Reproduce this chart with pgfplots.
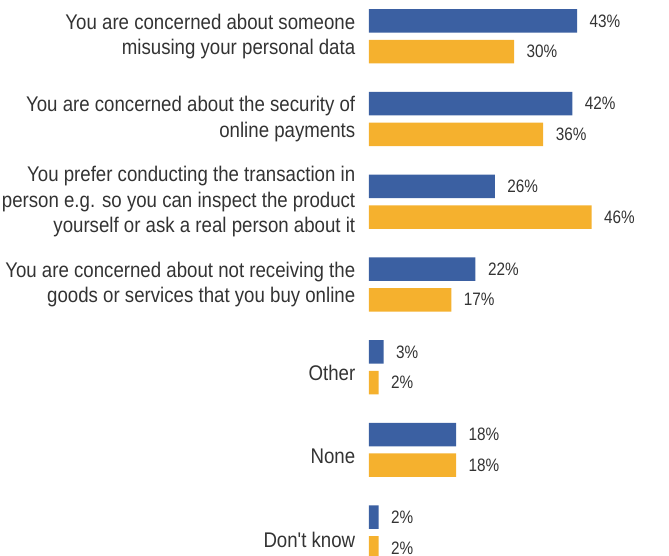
\documentclass[border=0pt]{standalone}
\usepackage{pgfplots}
\pgfplotsset{compat=1.18}
\usepackage{fontspec}
\setmainfont{Liberation Sans}[FakeStretch=0.85]
\newfontfamily\catfont{Liberation Sans}[FakeStretch=0.88]
\definecolor{cblue}{HTML}{3B60A2}
\definecolor{corange}{HTML}{F5B12E}
\definecolor{ctext}{HTML}{333333}
\begin{document}
\begin{tikzpicture}
\begin{axis}[
  name=ax,
  scale only axis,
  width=300bp, height=556bp,
  xmin=0, xmax=61.98,
  ymin=0, ymax=556,
  y dir=reverse,
  xbar, bar width=23.5,
  axis line style={draw=none},
  tick style={draw=none},
  xtick=\empty,
  ytick={36.35,119.05,201.75,284.45,367.15,449.85,532.55},
  yticklabels={
    {You are concerned about someone\\misusing your personal data},
    {You are concerned about the security of\\online payments},
    {You prefer conducting the transaction in\\person e.g. so you can inspect the product\\yourself or ask a real person about it},
    {You are concerned about not receiving the\\goods or services that you buy online},
    {\raisebox{-5.5bp}[\height][\depth]{Other}},
    {\raisebox{-6bp}[\height][\depth]{None}},
    {\raisebox{-7bp}[\height][\depth]{Don't know}}},
  yticklabel style={align=right, font=\catfont\fontsize{21.2bp}{25.5bp}\selectfont, text=ctext, xshift=-6bp},
  nodes near coords={\pgfmathprintnumber[assume math mode=true]{\pgfplotspointmeta}\%},
  nodes near coords style={font=\fontsize{18bp}{20bp}\selectfont, text=ctext, anchor=west, xshift=9bp},
  point meta=x,
  clip=true,
]
\addplot+[draw=none, fill=cblue, bar shift=0] coordinates {
(43,21) (42,103.7) (26,186.4) (22,269.1) (3,351.8) (18,434.5) (2,517.2)};
\addplot+[draw=none, fill=corange, bar shift=0] coordinates {
(30,51.7) (36,134.4) (46,217.1) (17,299.8) (2,382.5) (18,465.2) (2,547.9)};
\end{axis}
\pgfresetboundingbox
\path[use as bounding box] ([xshift=-369bp]ax.south west) rectangle (ax.north east);
\end{tikzpicture}
\end{document}
